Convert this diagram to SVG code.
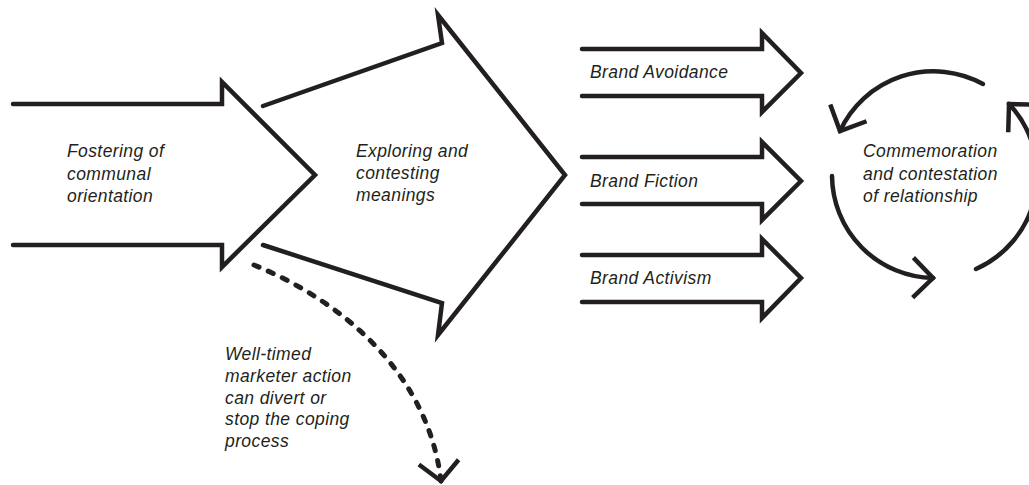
<svg xmlns="http://www.w3.org/2000/svg" width="1029" height="485" viewBox="0 0 1029 485">
<style>
.shape{fill:none;stroke:#231f20;stroke-width:4.5;stroke-linejoin:miter;stroke-linecap:round;stroke-miterlimit:10}
.lbl{font-family:"Liberation Sans",Arial,Helvetica,sans-serif;font-style:italic;font-size:17.5px;letter-spacing:0.4px;fill:#231f20}
.dash{fill:none;stroke:#231f20;stroke-width:5;stroke-linecap:round;stroke-dasharray:5.5 10}
</style>
<defs>
<marker id="chev" markerUnits="userSpaceOnUse" markerWidth="60" markerHeight="60" viewBox="-30 -30 60 60" refX="0" refY="0" orient="auto" overflow="visible">
<path d="M-20,-20 L0,0 L-20,20" fill="none" stroke="#231f20" stroke-width="4.5" stroke-linejoin="miter" stroke-linecap="butt"/>
</marker>
<marker id="chev2" markerUnits="userSpaceOnUse" markerWidth="60" markerHeight="60" viewBox="-30 -30 60 60" refX="0" refY="0" orient="auto" overflow="visible">
<path d="M-19,-20 L0,0 L-19,20" fill="none" stroke="#231f20" stroke-width="4.5" stroke-linejoin="miter" stroke-linecap="butt"/>
</marker>
</defs>
<rect width="1029" height="485" fill="#ffffff"/>
<g id="fostering">
<path class="shape" d="M13,104 L222,104 L222,82 L315,175 L222,267 L222,245 L13,245"/>
<text class="lbl" x="67" y="157">Fostering of</text>
<text class="lbl" x="67" y="180">communal</text>
<text class="lbl" x="67" y="202">orientation</text>
</g>
<g id="exploring">
<path class="shape" d="M263,106 L442,43 L438,15 L565,175 L438,335 L442,303 L263,245"/>
<text class="lbl" x="356" y="157">Exploring and</text>
<text class="lbl" x="356" y="179">contesting</text>
<text class="lbl" x="356" y="201">meanings</text>
</g>
<g id="brand-avoidance">
<path class="shape" d="M582,49 L762,49 L762,33 L801,73 L762,112 L762,96 L582,96"/>
<text class="lbl" x="590" y="78">Brand Avoidance</text>
</g>
<g id="brand-fiction">
<path class="shape" d="M582,157 L762,157 L762,142 L801,181 L762,220 L762,204 L582,204"/>
<text class="lbl" x="590" y="187">Brand Fiction</text>
</g>
<g id="brand-activism">
<path class="shape" d="M582,255 L762,255 L762,239 L801,278 L762,318 L762,302 L582,302"/>
<text class="lbl" x="590" y="284">Brand Activism</text>
</g>
<g id="commemoration">
<path class="shape" d="M983,84 A103,103 0 0 0 840,131" marker-end="url(#chev)"/>
<path class="shape" d="M832,176 A103,103 0 0 0 933,278" marker-end="url(#chev)"/>
<path class="shape" d="M976,269 A103,103 0 0 0 1009,104" marker-end="url(#chev)"/>
<text class="lbl" x="863" y="157">Commemoration</text>
<text class="lbl" x="863" y="180">and contestation</text>
<text class="lbl" x="863" y="202">of relationship</text>
</g>
<g id="connectors">
<path class="dash" d="M254,265 C340,300 428,372 441,481" marker-end="url(#chev2)"/>
</g>
<g id="marketer-note">
<text class="lbl" x="225" y="360">Well-timed</text>
<text class="lbl" x="225" y="382">marketer action</text>
<text class="lbl" x="225" y="403.5">can divert or</text>
<text class="lbl" x="225" y="425">stop the coping</text>
<text class="lbl" x="225" y="447">process</text>
</g>
</svg>
